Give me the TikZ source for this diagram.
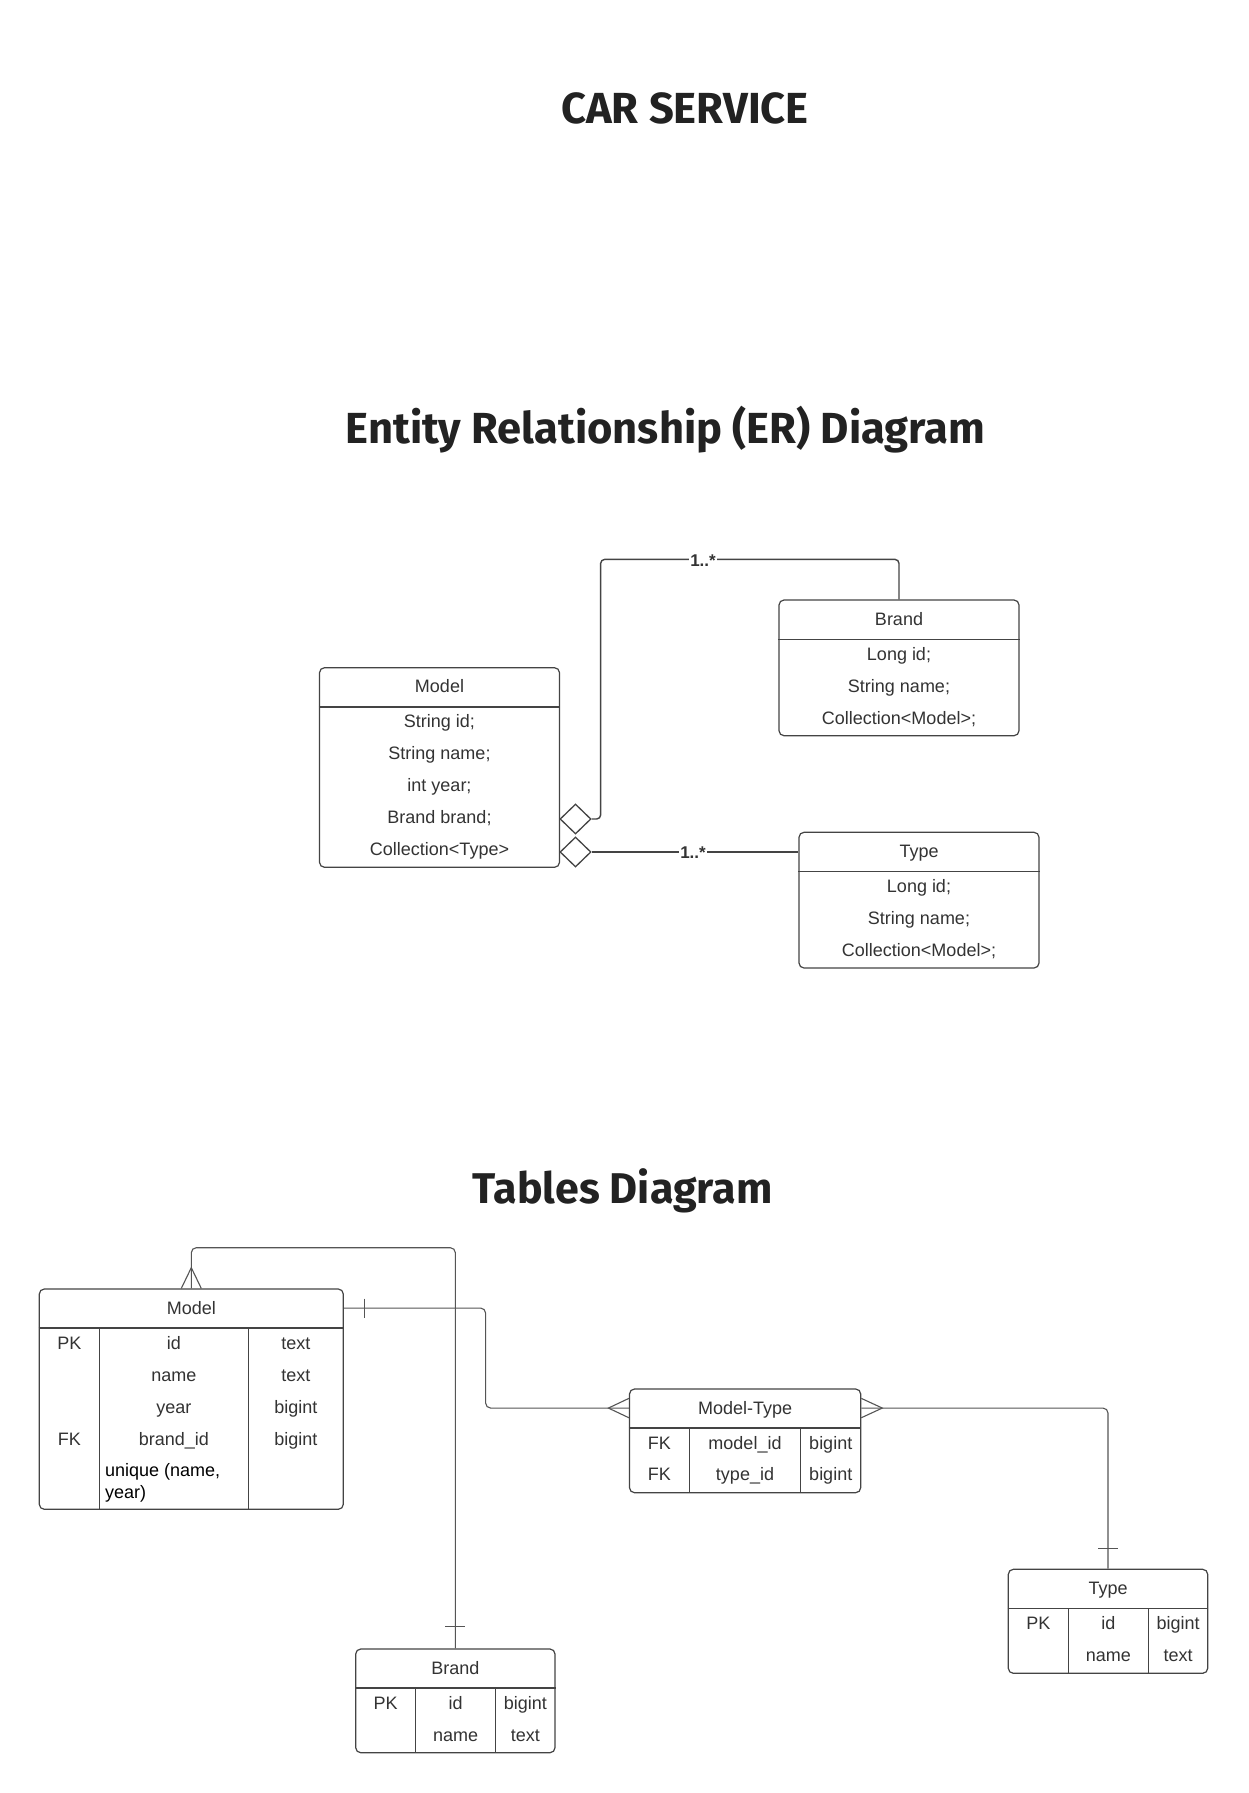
\documentclass[tikz,border=0pt]{standalone}
\usepackage{fontspec}
\setmainfont{Liberation Sans}
\newfontfamily\titlefont{Fira Sans}
\usetikzlibrary{shapes.geometric}
\definecolor{txt}{HTML}{333333}
\definecolor{ttl}{HTML}{222222}
\definecolor{bord}{HTML}{444444}
\definecolor{wire}{HTML}{555555}
\begin{document}
\begin{tikzpicture}[x=1pt,y=-1pt,
 box/.style={draw=bord, line width=1.2pt, rounded corners=5pt, rectangle, inner sep=0pt},
 sep/.style={draw=bord, line width=1.05pt},
 tx/.style={font=\fontsize{18}{22}\selectfont, text=txt, inner sep=0pt, text height=12.9pt, text depth=0pt},
 txb/.style={tx, text=black, anchor=west},
 ttln/.style={font=\titlefont\bfseries\fontsize{43.5}{50}\selectfont, text=ttl, inner sep=0pt, text height=30pt, text depth=0pt},
 conn/.style={draw=bord, line width=1.4pt, rounded corners=4pt},
 connb/.style={draw=bord, line width=2pt},
 tconn/.style={draw=wire, line width=1.1pt, rounded corners=5pt},
 cf/.style={draw=wire, line width=1.1pt},
 lbl/.style={font=\bfseries\fontsize{17}{20}\selectfont, text=txt, fill=white, inner xsep=1pt, inner ysep=1pt, text height=12.2pt, text depth=0pt},
 dia/.style={diamond, draw=bord, line width=1.3pt, fill=white, minimum width=31pt, minimum height=30pt, inner sep=0pt}
]
\fill[white] (0,0) rectangle (1249,1793);
\useasboundingbox (0,0) rectangle (1249,1793);

% ---- titles
\node[ttln] (t1) at (685,108) {CAR SERVICE};
\node[ttln] (t2) at (665.5,428) {Entity Relationship (ER) Diagram};
\node[ttln, font=\titlefont\bfseries\fontsize{43}{50}\selectfont] (t3) at (622.5,1188.7) {Tables Diagram};

% ---- ER diagram boxes
\node[box, minimum width=240pt, minimum height=199.6pt] (erModel) at (439.5,767.5) {};
\node[box, minimum width=240pt, minimum height=135.7pt] (erBrand) at (899,667.85) {};
\node[box, minimum width=240pt, minimum height=135.7pt] (erType) at (919,900.15) {};
\foreach \b in {erModel,erBrand,erType}
  \draw[sep] ([yshift=-39.9pt]\b.north west) -- ([yshift=-39.9pt]\b.north east);

\node[tx] (emH) at (439.5,686.5) {Model};
\node[tx] (em1) at (439.5,721.5) {String id;};
\node[tx] (em2) at (439.5,753.5) {String name;};
\node[tx] (em3) at (439.5,785.5) {int year;};
\node[tx] (em4) at (439.5,817.5) {Brand brand;};
\node[tx] (em5) at (439.5,849.5) {Collection<Type>};

\node[tx] (ebH) at (899,619) {Brand};
\node[tx] (eb1) at (899,654) {Long id;};
\node[tx] (eb2) at (899,686) {String name;};
\node[tx] (eb3) at (899,718) {Collection<Model>;};

\node[tx] (etH) at (919,851.5) {Type};
\node[tx] (et1) at (919,886.5) {Long id;};
\node[tx] (et2) at (919,918.5) {String name;};
\node[tx] (et3) at (919,950.5) {Collection<Model>;};

% ---- ER connectors
\node[dia] (dmA) at (575.5,819) {};
\node[dia] (dmB) at (575.5,852) {};
\draw[conn] (dmA.east) -- ([xshift=9pt]dmA.east) |- ([yshift=40pt]erBrand.north) -- (erBrand.north);
\draw[connb] (dmB.east) -- (erType.west |- dmB.east);
\node[lbl] (l1) at (703,560) {1..*};
\node[lbl] (l2) at (693,852) {1..*};

% ---- Tables diagram boxes
\node[box, minimum width=304pt, minimum height=220.3pt] (tModel) at (191.3,1399.15) {};
\node[box, minimum width=199.3pt, minimum height=103.7pt] (tBrand) at (455.35,1700.85) {};
\node[box, minimum width=199.4pt, minimum height=104pt] (tType) at (1108,1621.3) {};
\node[box, minimum width=231.2pt, minimum height=103.7pt] (tMT) at (745.1,1440.85) {};
\foreach \b in {tModel,tBrand,tType,tMT}
  \draw[sep] ([yshift=-39.6pt]\b.north west) -- ([yshift=-39.6pt]\b.north east);
% column separators
\draw[sep] (99.3,1328.6) -- (99.3,1509.3);
\draw[sep] (248.3,1328.6) -- (248.3,1509.3);
\draw[sep] (415.7,1688.6) -- (415.7,1752.7);
\draw[sep] (495.7,1688.6) -- (495.7,1752.7);
\draw[sep] (1068.3,1608.9) -- (1068.3,1673.3);
\draw[sep] (1148.3,1608.9) -- (1148.3,1673.3);
\draw[sep] (689.3,1428.6) -- (689.3,1492.7);
\draw[sep] (800.8,1428.6) -- (800.8,1492.7);

% Model table text
\node[tx] (tmH) at (191.3,1308) {Model};
\node[tx] (tm1a) at (69.3,1343) {PK};
\node[tx] (tm1b) at (173.8,1343) {id};
\node[tx] (tm1c) at (295.8,1343) {text};
\node[tx] (tm2b) at (173.8,1375) {name};
\node[tx] (tm2c) at (295.8,1375) {text};
\node[tx] (tm3b) at (173.8,1407) {year};
\node[tx] (tm3c) at (295.8,1407) {bigint};
\node[tx] (tm4a) at (69.3,1439) {FK};
\node[tx] (tm4b) at (173.8,1439) {brand\_id};
\node[tx] (tm4c) at (295.8,1439) {bigint};
\node[txb] (tm5) at (105,1470) {unique (name,};
\node[txb] (tm6) at (105,1492.3) {year)};

% Model-Type text
\node[tx] (mtH) at (745.1,1408) {Model-Type};
\node[tx] (mt1a) at (659.4,1442.7) {FK};
\node[tx] (mt1b) at (745,1442.7) {model\_id};
\node[tx] (mt1c) at (830.75,1442.7) {bigint};
\node[tx] (mt2a) at (659.4,1474.3) {FK};
\node[tx] (mt2b) at (745,1474.3) {type\_id};
\node[tx] (mt2c) at (830.75,1474.3) {bigint};

% Type table text
\node[tx] (ttH) at (1108,1588.5) {Type};
\node[tx] (tt1a) at (1038.3,1623.3) {PK};
\node[tx] (tt1b) at (1108.3,1623.3) {id};
\node[tx] (tt1c) at (1178,1623.3) {bigint};
\node[tx] (tt2b) at (1108.3,1655) {name};
\node[tx] (tt2c) at (1178,1655) {text};

% Brand table text
\node[tx] (tbH) at (455.35,1668.5) {Brand};
\node[tx] (tb1a) at (385.7,1702.7) {PK};
\node[tx] (tb1b) at (455.7,1702.7) {id};
\node[tx] (tb1c) at (525.3,1702.7) {bigint};
\node[tx] (tb2b) at (455.7,1735) {name};
\node[tx] (tb2c) at (525.3,1735) {text};

% ---- Tables connectors
\coordinate (mR) at ([yshift=-19.65pt]tModel.north east);
\coordinate (mtL) at ([yshift=-19.65pt]tMT.north west);
\coordinate (mtR) at ([yshift=-19.65pt]tMT.north east);

% Model (many) -- Brand (one)
\draw[tconn] (tModel.north) -- ([yshift=40.7pt]tModel.north) -| (tBrand.north);
\draw[cf] ([xshift=-10pt]tModel.north) -- ([yshift=20.7pt]tModel.north) -- ([xshift=10pt]tModel.north);
\draw[cf] ([xshift=-10pt,yshift=21.7pt]tBrand.north) -- ([xshift=10pt,yshift=21.7pt]tBrand.north);

% Model (one) -- Model-Type (many)
\draw[tconn] (mR) -- ([xshift=141.7pt]mR) |- (mtL);
\draw[cf] ([xshift=21pt,yshift=9.5pt]mR) -- ([xshift=21pt,yshift=-9.5pt]mR);
\draw[cf] ([yshift=9.7pt]mtL) -- ([xshift=-20.5pt]mtL) -- ([yshift=-9.7pt]mtL);

% Model-Type (many) -- Type (one)
\draw[tconn] (mtR) -| (tType.north);
\draw[cf] ([yshift=9.7pt]mtR) -- ([xshift=21pt]mtR) -- ([yshift=-9.7pt]mtR);
\draw[cf] ([xshift=-10pt,yshift=20pt]tType.north) -- ([xshift=10pt,yshift=20pt]tType.north);
\end{tikzpicture}
\end{document}
